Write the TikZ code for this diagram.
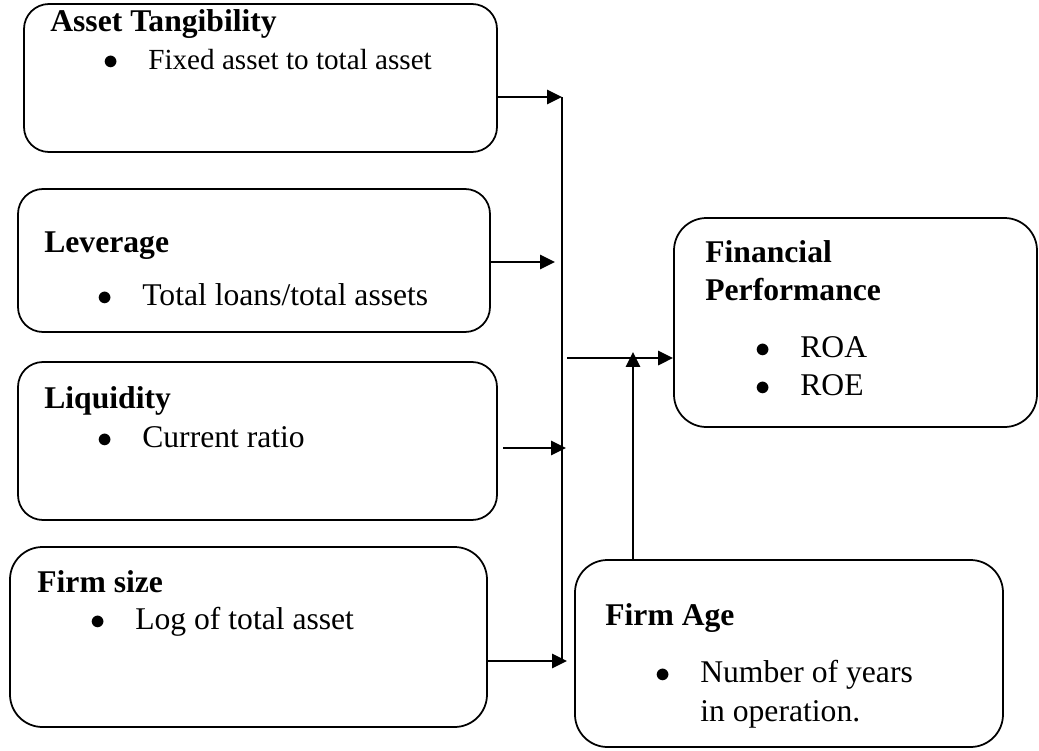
\documentclass[tikz,border=0pt]{standalone}
\usepackage{fontspec}
\setmainfont{Liberation Serif}
\usetikzlibrary{arrows.meta,fit}
\tikzset{>={Triangle[length=8.5pt,width=8pt]}}
\newcommand{\itm}[1]{\makebox[0.9cm][l]{$\bullet$}#1}

\begin{document}
\begin{tikzpicture}[x=0.02cm,y=-0.02cm,
  box/.style={draw,line width=1pt,rounded corners=0.5cm,inner sep=0pt},
  head/.style={anchor=base west,inner sep=0pt,font=\fontsize{18}{21}\selectfont\bfseries},
  item/.style={anchor=base west,inner sep=0pt,font=\fontsize{18}{21}\selectfont},
  arr/.style={->,line width=1.5pt},
  bus/.style={line width=1.2pt}]
\useasboundingbox (0,0) rectangle (1039,751);
% boxes
\node[box,fit={(24,4) (497,152)}] (tang) {};
\node[box,fit={(18,189) (490,332)}] (lev) {};
\node[box,fit={(18,362) (497,520)}] (liq) {};
\node[box,rounded corners=0.65cm,fit={(10,547) (487,727)}] (fsize) {};
\node[box,rounded corners=0.65cm,fit={(575,560) (1003,747)}] (fage) {};
\node[box,rounded corners=0.65cm,fit={(674,218) (1037,427)}] (perf) {};
% texts
\node[head] (tangT) at (50,31) {Asset Tangibility};
\node[item,font=\fontsize{16.6}{20}\selectfont] (tangI) at (103,69) {\itm{Fixed asset to total asset}};
\node[head] (levT) at (44,252) {Leverage};
\node[item] (levI) at (97,305) {\itm{Total loans/total assets}};
\node[head] (liqT) at (44,408) {Liquidity};
\node[item] (liqI) at (97,447) {\itm{Current ratio}};
\node[head] (fsizeT) at (37,592) {Firm size};
\node[item] (fsizeI) at (90,629) {\itm{Log of total asset}};
\node[head] (fageT) at (605,625) {Firm Age};
\node[item] (fageI) at (655,682) {\itm{Number of years}};
\node[item] (fageJ) at (700,721) {in operation.};
\node[head] (perfT) at (705,262) {Financial};
\node[head] (perfU) at (705,300) {Performance};
\node[item] (perfI) at (755,357) {\itm{ROA}};
\node[item] (perfJ) at (755,395) {\itm{ROE}};
% connectors
\coordinate (j1) at (562,97);
\coordinate (j4) at (562,661);
\coordinate (e2) at (555,262);
\coordinate (s3) at (503,448);
\coordinate (e3) at (566,448);
\coordinate (e4) at (567,661);
\coordinate (s5) at (567,358);
\coordinate (e6) at (633,352);
\draw[bus] (j1) -- (j4);
\draw[arr] (tang.east |- j1) -- (j1);
\draw[arr] (lev.east |- e2) -- (e2);
\draw[arr] (s3) -- (e3);
\draw[arr] (fsize.east |- e4) -- (e4);
\draw[arr] (s5) -- (perf.west |- s5);
\draw[arr] (fage.north -| e6) -- (e6);
\end{tikzpicture}
\end{document}
